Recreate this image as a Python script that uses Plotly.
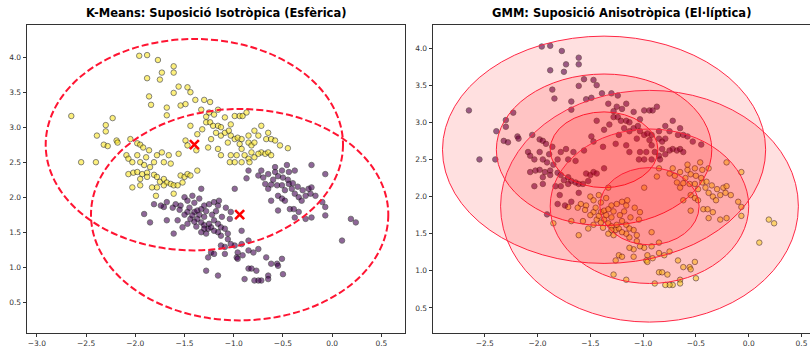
import numpy as np
import plotly.graph_objects as go

# ---- observations (x, y) ----
upper_x = [-1.96, -1.88, -1.77, -1.73, -1.61, -1.61, -1.88, -1.75, -2.65, -1.86, -1.84, -1.68, -1.68, -1.61, -1.56,
           -1.47, -1.44, -1.54, -1.49, -1.39, -1.30, -1.24, -2.23, -2.30, -2.30, -2.39, -2.55, -2.40, -2.32, -2.28,
           -2.19, -2.18, -2.05, -1.98, -1.95, -1.92, -1.49, -1.37, -1.28, -1.25, -1.20, -1.28, -1.24, -1.21, -1.16,
           -1.13, -1.18, -1.13, -1.09, -1.03, -0.99, -0.94, -0.91, -0.87, -1.05, -1.03, -0.99, -0.96, -0.92, -0.85,
           -0.94, -0.92, -0.85, -0.82, -0.79, -0.75, -0.72, -0.67, -0.62, -0.58, -0.53, -0.45, -0.72, -0.82, -0.79,
           -0.85, -0.89, -0.97, -1.03, -1.04, -0.99, -0.92, -0.84, -0.75, -0.68, -0.65, -0.62, -1.56, -1.66, -1.78,
           -1.73, -1.71, -1.64, -1.81, -1.85, -2.09, -2.07, -2.03, -1.98, -1.95, -1.91, -1.89, -1.86, -1.47, -1.38,
           -1.26, -1.16, -1.13, -1.33, -1.16, -1.09, -1.32, -1.23, -1.44, -1.06, -0.65, -0.79,
           -2.07, -2.02, -1.98, -1.93, -1.88, -1.95, -1.88, -1.81, -1.78, -1.75, -1.71, -1.68, -1.64, -1.61, -1.71,
           -1.78, -1.83, -1.95, -2.03, -1.79, -1.54, -1.50, -1.47, -1.44, -1.52, -1.57, -1.37]
upper_y = [4.02, 4.03, 3.96, 3.78, 3.87, 3.78, 3.70, 3.68, 3.16, 3.44, 3.32, 3.28, 3.17, 3.49, 3.58,
           3.57, 3.50, 3.31, 3.33, 3.39, 3.39, 3.36, 3.13, 3.03, 2.94, 2.88, 2.50, 2.50, 2.75, 2.73,
           2.81, 2.78, 2.83, 2.77, 2.75, 2.71, 2.81, 2.90, 3.15, 3.21, 3.18, 3.07, 3.07, 3.02, 3.02,
           3.00, 2.92, 2.88, 2.92, 3.04, 3.16, 3.16, 3.16, 3.21, 2.95, 2.88, 2.83, 2.85, 2.83, 2.88,
           2.76, 2.69, 2.78, 2.74, 2.78, 2.88, 3.02, 2.83, 2.83, 2.81, 2.74, 2.70, 2.64, 2.64, 2.57,
           2.55, 2.60, 2.60, 2.60, 2.50, 2.50, 2.50, 2.50, 2.62, 2.62, 2.64, 2.60, 2.62, 2.60, 2.60,
           2.64, 2.50, 2.48, 2.50, 2.43, 2.60, 2.55, 2.50, 2.60, 2.50, 2.46, 2.57, 2.67, 2.74, 2.67,
           2.71, 2.69, 2.60, 3.25, 3.25, 3.14, 2.97, 2.83, 3.02, 2.78, 2.92, 2.95,
           2.33, 2.35, 2.36, 2.33, 2.35, 2.26, 2.29, 2.32, 2.29, 2.22, 2.26, 2.21, 2.19, 2.17, 2.17,
           2.14, 2.14, 2.17, 2.14, 2.02, 2.31, 2.29, 2.33, 2.31, 2.21, 2.17, 2.38]

lower_x = [-0.85, -0.75, -0.72, -0.65, -0.58, -0.51, -0.44, -0.38, -0.87, -0.68, -0.65, -0.56, -0.51, -0.44, -0.41,
           -0.38, -0.34, -0.31, -0.27, -0.22, -0.17, -0.10, -0.07, -0.07, -0.07, -0.24, -0.21, -0.55, -0.51, -0.48,
           -0.62, -0.55, -0.43, -0.39, -1.61, -1.50, -1.47, -1.54, -1.59, -1.68, -1.71, -1.81, -1.74, -1.91, -1.85,
           -1.68, -1.57, -1.61, -1.52, -1.47, -1.44, -1.40, -1.37, -1.33, -1.30, -1.25, -1.20, -1.16, -1.47, -1.42,
           -1.37, -1.33, -1.30, -1.26, -1.23, -1.28, -1.33, -1.20, -1.16, -1.13, -1.09, -1.06, -1.06, -1.13, -1.16,
           -1.04, -1.03, -0.99, -0.92, -0.85, -0.92, -0.99, -1.03, -1.09, -1.13, -1.23, -1.26, -1.20, -1.09, -0.96,
           -0.97, -0.91, -0.85, -0.80, -0.75, -0.67, -0.62, -0.56, -0.55, -0.51, -0.50, -0.65, -0.65, -0.72, -0.75,
           -0.79, -0.85, -0.82, -0.77, -0.89, -0.96, -1.16, -1.28, 0.10, 0.19, 0.24, -0.34, -0.38, -0.27, -0.21,
           -1.33, -0.21, -0.46, -0.58,
           -1.45, -1.40, -1.35, -1.30, -1.28, -1.22, -1.18, -1.12, -1.25, -1.38, -1.50, -1.55, -1.62, -1.35, -1.42,
           -1.15, -1.08, -1.30, -1.20, -1.40, -0.60, -0.55, -0.50, -0.62, -0.45, -0.40, -0.70, -0.48, -0.35, -0.30]
lower_y = [2.38, 2.31, 2.38, 2.33, 2.36, 2.38, 2.36, 2.38, 2.27, 2.19, 2.12, 2.17, 2.17, 2.19, 2.12,
           2.05, 2.00, 1.95, 2.02, 2.05, 2.02, 1.93, 1.86, 1.74, 2.33, 2.12, 2.14, 2.02, 1.98, 1.95,
           1.95, 1.81, 1.83, 1.83, 2.05, 2.00, 1.95, 1.88, 1.90, 1.93, 1.86, 1.90, 1.88, 1.76, 1.64,
           1.67, 1.67, 1.48, 1.57, 1.62, 1.69, 1.79, 1.81, 1.83, 1.88, 1.90, 1.93, 1.88, 1.79, 1.74,
           1.69, 1.64, 1.60, 1.55, 1.57, 1.48, 1.50, 1.67, 1.62, 1.57, 1.55, 1.48, 1.40, 1.45, 1.50,
           1.69, 1.79, 2.12, 1.52, 1.38, 1.33, 1.31, 1.33, 1.29, 1.31, 1.21, 1.14, 1.19, 1.19, 1.21,
           1.14, 1.17, 1.24, 1.21, 1.26, 1.14, 1.05, 1.05, 1.02, 1.12, 0.90, 0.88, 0.83, 0.81, 0.81,
           0.81, 0.98, 0.98, 0.95, 0.83, 1.12, 0.88, 0.95, 1.38, 1.69, 1.64, 1.79, 1.71, 1.69, 1.71,
           2.12, 2.46, 2.46, 2.43,
           1.85, 1.92, 1.75, 1.72, 1.80, 1.75, 1.80, 1.72, 1.62, 1.58, 1.75, 1.82, 1.85, 1.98, 2.02,
           1.95, 1.85, 1.55, 1.52, 1.65, 2.25, 2.30, 2.28, 2.18, 2.25, 2.20, 2.28, 2.10, 2.15, 2.10]

X = np.array(upper_x + lower_x)
Y = np.array(upper_y + lower_y)

# ---- K-Means centroids and their spherical radius ----
km_cx = [-1.40, -0.94]
km_cy = [2.75, 1.75]
km_radius = 1.51

# ---- GMM components: means and per-axis standard deviations ----
gmm_mx = [-1.37, -0.94]
gmm_my = [2.63, 1.87]
gmm_sx = [0.51, 0.47]
gmm_sy = [0.51, 0.52]
n_std = [1, 2, 3]

PURPLE = "#440154"
YELLOW = "#fde725"

# K-Means assignment: nearest centroid (0 -> lower, 1 -> upper)
d_km = np.stack([(X - cx) ** 2 + (Y - cy) ** 2 for cx, cy in zip(km_cx, km_cy)])
km_label = np.argmin(d_km, axis=0)
km_colors = [YELLOW if l == 0 else PURPLE for l in km_label]

# GMM assignment: most likely component
ll = np.stack([-0.5 * (((X - mx) / sx) ** 2 + ((Y - my) / sy) ** 2) - np.log(sx * sy)
               for mx, my, sx, sy in zip(gmm_mx, gmm_my, gmm_sx, gmm_sy)])
gmm_label = np.argmax(ll, axis=0)
gmm_colors = [PURPLE if l == 0 else YELLOW for l in gmm_label]

fig = go.Figure()

fig.add_trace(go.Scatter(
    x=X, y=Y, mode="markers", xaxis="x", yaxis="y", showlegend=False,
    marker=dict(size=5.5, color=km_colors, opacity=0.6, line=dict(color="black", width=0.8)),
))
fig.add_trace(go.Scatter(
    x=km_cx, y=km_cy, mode="markers", xaxis="x", yaxis="y", showlegend=False,
    marker=dict(symbol="x-thin", size=9, line=dict(color="red", width=2.6), color="red"),
))
fig.add_trace(go.Scatter(
    x=X, y=Y, mode="markers", xaxis="x2", yaxis="y2", showlegend=False,
    marker=dict(size=5.5, color=gmm_colors, opacity=0.6, line=dict(color="black", width=0.8)),
))

shapes = []
for cx, cy in zip(km_cx, km_cy):
    shapes.append(dict(
        type="circle", xref="x", yref="y", layer="above",
        x0=cx - km_radius, x1=cx + km_radius, y0=cy - km_radius, y1=cy + km_radius,
        line=dict(color="rgb(255,20,50)", width=2, dash="7px,3px"), fillcolor="rgba(0,0,0,0)",
    ))
# GMM confidence ellipses (1, 2, 3 std) drawn over the points
for mx, my, sx, sy in zip(gmm_mx, gmm_my, gmm_sx, gmm_sy):
    for n in n_std:
        shapes.append(dict(
            type="circle", xref="x2", yref="y2", layer="above",
            x0=mx - n * sx, x1=mx + n * sx, y0=my - n * sy, y1=my + n * sy,
            line=dict(color="rgb(255,40,70)", width=1), fillcolor="rgba(255,0,0,0.12)",
        ))

tick_font = dict(family="DejaVu Sans", size=7.5, color="#333")
axis_common = dict(showgrid=False, zeroline=False, showline=True, linecolor="#333", linewidth=0.8,
                   ticks="outside", ticklen=3.5, tickwidth=0.8, tickcolor="#333",
                   tickfont=tick_font, automargin=False, tickformat=".1f")

fig.update_layout(
    width=810, height=347,
    margin=dict(l=27, r=0, t=25, b=14),
    paper_bgcolor="white", plot_bgcolor="white",
    template="none",
    shapes=shapes,
    xaxis=dict(domain=[0, 0.4828], range=[-3.10, 0.74], dtick=0.5, tick0=0, mirror=True,
               anchor="y", **axis_common),
    yaxis=dict(domain=[0, 1], range=[0.06, 4.46], dtick=0.5, tick0=0, mirror=True,
               anchor="x", **axis_common),
    xaxis2=dict(domain=[0.5185, 1], range=[-2.99, 0.58], dtick=0.5, tick0=0, mirror=True,
                anchor="y2", **axis_common),
    yaxis2=dict(domain=[0, 1], range=[0.163, 4.31], dtick=0.5, tick0=0, mirror=False,
                anchor="x2", **axis_common),
    annotations=[
        dict(text="<b>K-Means: Suposició Isotròpica (Esfèrica)</b>", xref="x domain", yref="y domain",
             x=0.5, y=1, xanchor="center", yanchor="bottom", yshift=3, showarrow=False,
             font=dict(family="DejaVu Sans", size=11.5, color="black")),
        dict(text="<b>GMM: Suposició Anisotròpica (El·líptica)</b>", xref="x2 domain", yref="y2 domain",
             x=0.5, y=1, xanchor="center", yanchor="bottom", yshift=3, showarrow=False,
             font=dict(family="DejaVu Sans", size=11.5, color="black")),
    ],
)

fig.write_html("out.html")
